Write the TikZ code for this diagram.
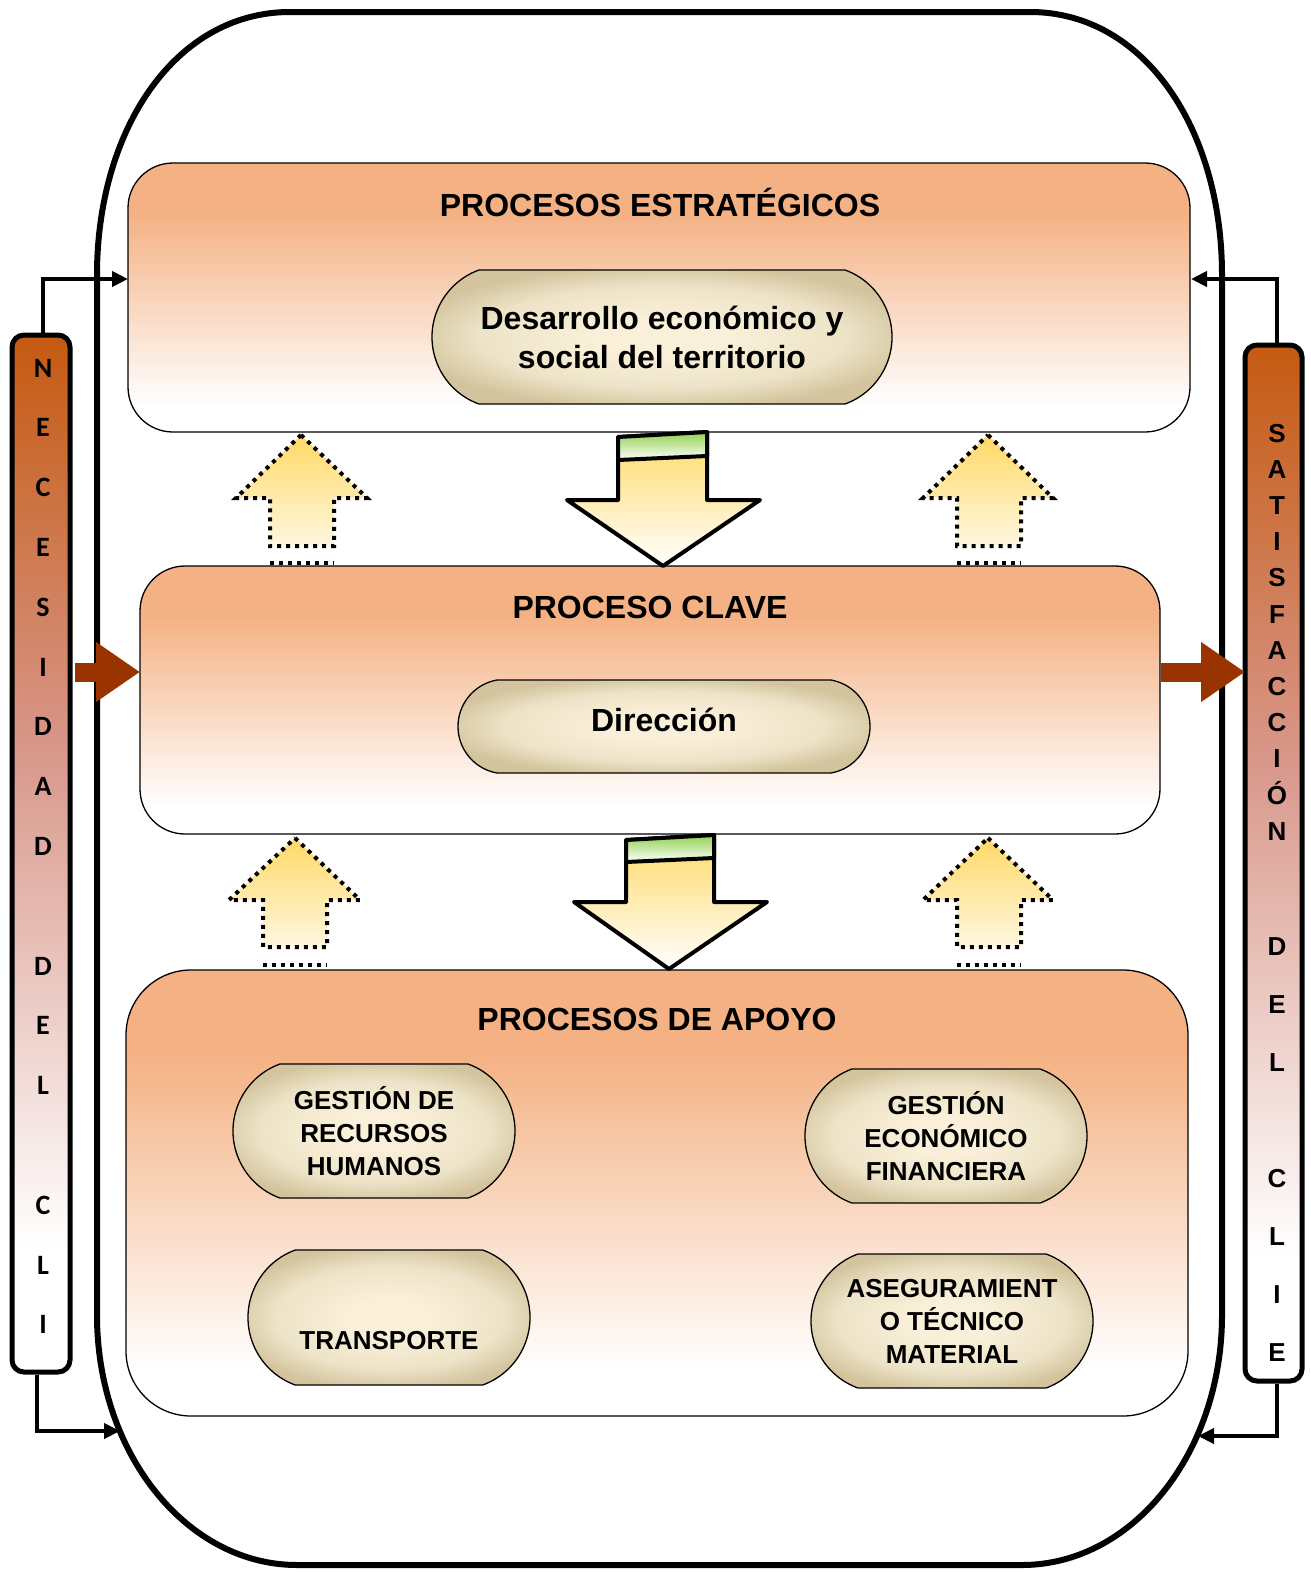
\documentclass[tikz,border=0pt]{standalone}
\usepackage{fontspec}
\setmainfont{Liberation Sans}
\newfontfamily\barfont{Carlito}
\usetikzlibrary{shapes.misc,arrows.meta}

\definecolor{boxtop}{HTML}{F4B183}
\definecolor{bartop}{HTML}{C55A11}
\definecolor{barmid}{HTML}{D8978A}
\definecolor{pillin}{HTML}{FAF0D9}
\definecolor{pillmid}{HTML}{EDE3C7}
\definecolor{pillout}{HTML}{D3C49D}
\definecolor{yel}{HTML}{FFD966}
\definecolor{grn}{HTML}{92D050}
\definecolor{rust}{HTML}{993300}

% fades used for the process boxes, the side bars and the pills
\pgfdeclareverticalshading{boxfade}{100bp}{color(0bp)=(white); color(30bp)=(white); color(66bp)=(boxtop); color(100bp)=(boxtop)}
\pgfdeclareverticalshading{barfade}{100bp}{color(0bp)=(white); color(31bp)=(white); color(55bp)=(barmid); color(75bp)=(bartop); color(100bp)=(bartop)}
\pgfdeclareradialshading{pillglow}{\pgfpoint{0bp}{0bp}}{color(0bp)=(pillin); color(7bp)=(pillin); color(19bp)=(pillmid); color(27bp)=(pillout); color(50bp)=(pillout)}

\tikzset{
  procbox/.style={draw, line width=1.3pt, rounded corners=45pt, shade, shading=boxfade, inner sep=0pt},
  pill/.style={draw, line width=1.3pt, rounded rectangle, rounded rectangle arc length=140,
    shade, shading=pillglow, align=center, inner sep=0pt,
    font=\bfseries\fontsize{26}{33}\selectfont},
  bigpill/.style={pill, font=\bfseries\fontsize{32}{39}\selectfont},
  title/.style={anchor=base, font=\bfseries\fontsize{32}{39}\selectfont},
  sidebar/.style={draw, line width=5pt, rounded corners=12pt, shade, shading=barfade, inner sep=0pt},
  leftletter/.style={anchor=base, font=\barfont\bfseries\fontsize{28}{28}\selectfont},
  rightletter/.style={anchor=base, font=\bfseries\fontsize{26}{26}\selectfont},
  feed/.style={line width=4pt, -{Triangle[length=16pt,width=15pt]}},
  flowarrow/.style={line width=19pt, rust, -{Triangle[length=44pt,width=57pt]}},
  downarrow/.style={draw, line width=4pt, line join=round, top color=yel, bottom color=white},
  band/.style={draw, line width=4pt, line join=round, top color=grn, bottom color=white},
  uparrow/.style={draw, line width=4pt, dash pattern=on 4pt off 5pt, top color=yel, bottom color=white!80!yel},
  dots/.style={line width=4pt, dash pattern=on 4pt off 5pt},
  outline/.style={line width=6pt}
}

\begin{document}
\begin{tikzpicture}[x=1pt, y=-1pt]
\useasboundingbox (0,0) rectangle (1310,1572);

% outer rounded frame
\draw[outline] (290,12) -- (1030,12) .. controls (1145,12) and (1222,130) .. (1222,275)
  -- (1222,1315) .. controls (1222,1453) and (1132.5,1565) .. (1022,1565)
  -- (297,1565) .. controls (186.5,1565) and (97,1453) .. (97,1315)
  -- (97,275) .. controls (97,130) and (175,12) .. cycle;
\coordinate (frameL) at (120,1431);
\coordinate (frameR) at (1198,1436);

% process boxes
\node[procbox, minimum width=1062pt, minimum height=269pt] (est) at (659,297.5) {};
\node[procbox, minimum width=1020pt, minimum height=268pt] (clave) at (650,700) {};
\node[procbox, rounded corners=65pt, minimum width=1062pt, minimum height=446pt] (apoyo) at (657,1193) {};

\node[title] (tEst) at (660,216) {PROCESOS ESTRATÉGICOS};
\node[title] (tClave) at (650,618.5) {PROCESO CLAVE};
\node[title] (tApoyo) at (657,1030.5) {PROCESOS DE APOYO};

% pills
\node[bigpill, minimum width=460pt, minimum height=134pt] (dev) at (662,337) {Desarrollo económico y\\social del territorio};
\node[bigpill, rounded rectangle arc length=160, minimum width=412pt, minimum height=93pt] (dir) at (664,726.5) {};
\node[anchor=base, font=\bfseries\fontsize{32}{39}\selectfont] (dirT) at (664,731.5) {Dirección};
\node[pill, minimum width=282pt, minimum height=134pt] (rrhh) at (374,1131) {GESTIÓN DE\\RECURSOS\\HUMANOS};
\node[pill, minimum width=282pt, minimum height=134pt] (fin) at (946,1136) {GESTIÓN\\ECONÓMICO\\FINANCIERA};
\node[pill, minimum width=282pt, minimum height=135pt] (trans) at (389,1317.5) {};
\node[anchor=base, font=\bfseries\fontsize{26}{33}\selectfont] (transT) at (389,1349.5) {TRANSPORTE};
\node[pill, minimum width=282pt, minimum height=134pt] (aseg) at (952,1321) {ASEGURAMIENT\\O TÉCNICO\\MATERIAL};

% downward flow arrows
\path[downarrow] (618,437) -- (707,432) -- (707,500) -- (760,500) -- (663,566) -- (567,500) -- (618,500) -- cycle;
\path[band] (618,437) -- (707,432) -- (707,456) -- (618,460) -- cycle;
\path[downarrow] (626,840) -- (714,835) -- (714,902) -- (767,902) -- (669,969) -- (574,902) -- (626,902) -- cycle;
\path[band] (626,840) -- (714,835) -- (714,858) -- (626,862) -- cycle;

% dotted upward arrows
\path[uparrow] (301,435) -- (367,498) -- (334,498) -- (334,546) -- (270,546) -- (270,498) -- (236,498) -- cycle;
\draw[dots] (270,563) -- (334,563);
\path[uparrow] (988,435) -- (1053,498) -- (1021,498) -- (1021,546) -- (957,546) -- (957,498) -- (923,498) -- cycle;
\draw[dots] (957,563) -- (1021,563);
\path[uparrow] (295,838) -- (360,900) -- (327,900) -- (327,947) -- (263,947) -- (263,900) -- (229,900) -- cycle;
\draw[dots] (263,965) -- (327,965);
\path[uparrow] (988,838) -- (1053,900) -- (1021,900) -- (1021,947) -- (957,947) -- (957,900) -- (923,900) -- cycle;
\draw[dots] (957,965) -- (1021,965);

% side bars
\coordinate (clIn) at (140,672);
\coordinate (satIn) at (1245,672);
\node[sidebar, minimum width=58pt, minimum height=1037pt] (nec) at (41,853.5) {};
\node[sidebar, minimum width=57pt, minimum height=1036pt] (sat) at (1273.5,863) {};
\draw[flowarrow] ([xshift=2.5pt]nec.east |- clIn) -- (clIn);
\draw[flowarrow] (clave.east |- satIn) -- (satIn);

\foreach \c/\i in {N/0,E/1,C/2,E/3,S/4,I/5,D/6,A/7,D/8,D/10,E/11,L/12,C/14,L/15,I/16}
  \node[leftletter] (nl\i) at (43,{377+59.8*\i}) {\c};
\foreach \c/\i in {S/0,A/1,T/2,I/3,S/4,F/5,A/6,C/7,C/8,I/9,Ó/10,N/11}
  \node[rightletter] (sl\i) at (1277,{442+36.2*\i}) {\c};
\foreach \c/\i in {D/0,E/1,L/2,C/4,L/5,I/6,E/7}
  \node[rightletter] (sd\i) at (1277,{955+58*\i}) {\c};

% feedback connectors
\coordinate (estL) at (128,279);
\coordinate (estR) at (1191,279);
\draw[feed] ([xshift=2pt]nec.north) |- (estL);
\draw[feed] ([xshift=3.5pt]sat.north) |- (estR);
\draw[feed] ([xshift=-4pt]nec.south) |- (frameL);
\draw[feed] ([xshift=3.5pt]sat.south) |- (frameR);
\end{tikzpicture}
\end{document}
